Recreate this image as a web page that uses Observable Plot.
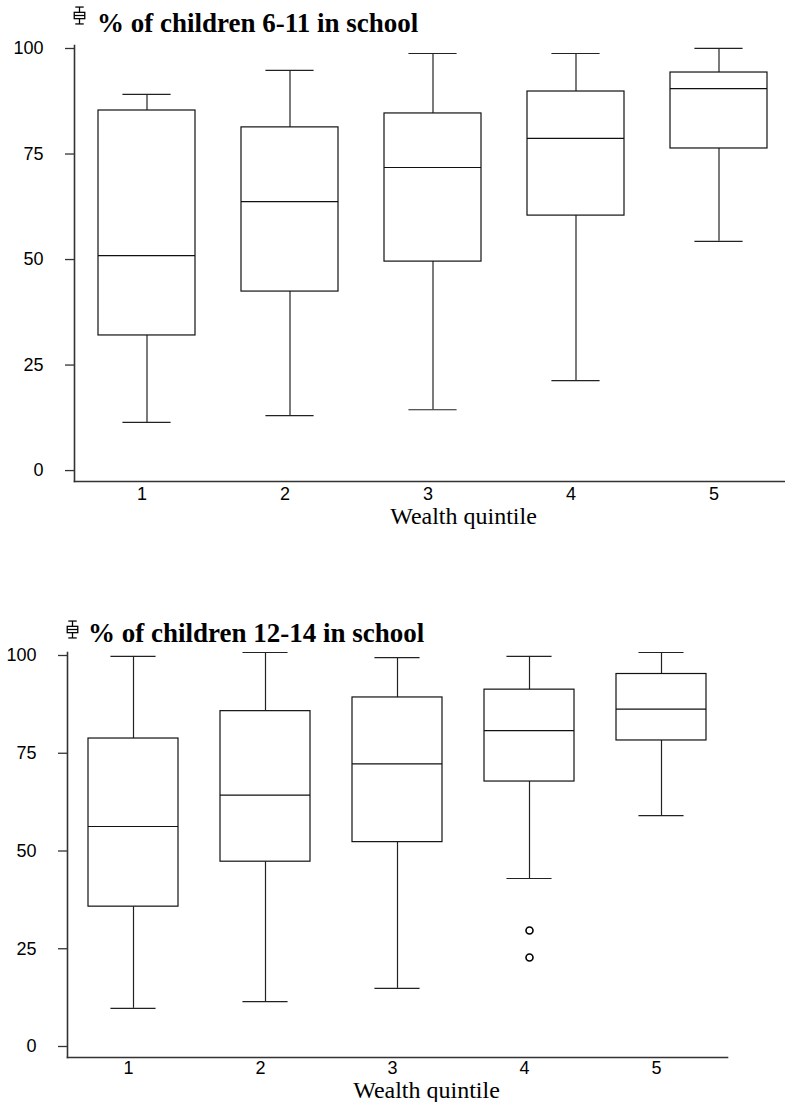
<!DOCTYPE html>
<html><head><meta charset="utf-8">
<script src="https://cdn.jsdelivr.net/npm/d3@7"></script>
<script src="https://cdn.jsdelivr.net/npm/@observablehq/plot@0.6"></script>
<style>
body{margin:0;background:#fff;}
#wrap{position:relative;width:785px;height:1102px;overflow:hidden;background:#fff;}
.title{position:absolute;z-index:2;font-family:"Liberation Serif","Times New Roman",serif;font-weight:bold;font-size:27px;white-space:nowrap;line-height:1;color:#000;}
.icon{position:absolute;z-index:2;}
.chart{position:absolute;left:0;z-index:1;}
</style></head><body>
<div id="wrap"></div>
<script>
// ---- data ----
const quintiles = ["1", "2", "3", "4", "5"];
const yTicks = [0, 25, 50, 75, 100];
const xTitle = "Wealth quintile";

// Chart 1: % of children 6-11 in school
const title1 = "% of children 6-11 in school";
const lo1  = [10.7, 12.3, 13.7, 20.6, 53.6];
const q1_1 = [31.3, 41.7, 48.8, 59.7, 75.6];
const med1 = [50.2, 63.0, 71.1, 78.0, 89.8];
const q3_1 = [84.6, 80.6, 83.9, 89.1, 93.6];
const hi1  = [88.4, 94.1, 98.1, 98.1, 99.3];

// Chart 2: % of children 12-14 in school
const title2 = "% of children 12-14 in school";
const lo2  = [9.0, 10.7, 14.1, 42.2, 58.3];
const q1_2 = [35.0, 46.5, 51.5, 67.0, 77.5];
const med2 = [55.5, 63.5, 71.5, 80.0, 85.5];
const q3_2 = [78.0, 85.0, 88.5, 90.5, 94.5];
const hi2  = [99.0, 100.0, 98.7, 99.0, 100.0];
const outQ2 = ["4", "4"];
const outV2 = [28.9, 22.0];

// ---- build ----
const wrap = document.getElementById("wrap");
const serif = '"Liberation Serif","Times New Roman",serif';
const sans = '"Liberation Sans",Arial,sans-serif';

function rows(lo, q1, med, q3, hi) {
  return quintiles.map((q, i) => ({q, lo: lo[i], q1: q1[i], med: med[i], q3: q3[i], hi: hi[i]}));
}

function iconSVG(w, h) {
  const ns = "http://www.w3.org/2000/svg";
  const s = document.createElementNS(ns, "svg");
  s.setAttribute("width", w); s.setAttribute("height", h);
  s.setAttribute("viewBox", "0 0 12 18");
  s.innerHTML = '<g stroke="#000" stroke-width="1.2" fill="none">' +
    '<line x1="2" y1="1" x2="10" y2="1"/><line x1="6" y1="1" x2="6" y2="6"/>' +
    '<rect x="1" y="6" width="10" height="6"/><line x1="1" y1="9" x2="11" y2="9"/>' +
    '<line x1="6" y1="12" x2="6" y2="17"/><line x1="2" y1="17" x2="10" y2="17"/></g>';
  return s;
}

function addTitle(text, iconX, iconY, textX, textY) {
  const ic = iconSVG(13, 19);
  ic.classList.add("icon");
  ic.style.left = iconX + "px"; ic.style.top = iconY + "px";
  wrap.appendChild(ic);
  const t = document.createElement("div");
  t.className = "title";
  t.textContent = text;
  t.style.left = textX + "px"; t.style.top = textY + "px";
  wrap.appendChild(t);
}

function boxChart({data, outliers, top, height, marginTop, marginBottom, marginLeft, marginRight, yMin, xTitleDx, xTitleDy, xTickPad, xTickDx}) {
  const plotW = 785 - marginLeft - marginRight;
  const bw = plotW / 5 * 0.68;
  const chart = Plot.plot({
    width: 785, height, marginTop, marginBottom, marginLeft, marginRight,
    style: {fontFamily: sans, fontSize: "18px", background: "transparent", color: "#000"},
    x: {domain: quintiles, paddingInner: 0.32, paddingOuter: 0.16, axis: null},
    y: {domain: [yMin, 100], axis: null},
    marks: [
      Plot.axisY({ticks: yTicks, tickSize: 9, tickPadding: 22, dy: 3, fontSize: 18, stroke: "#333", strokeWidth: 1.3, label: null}),
      Plot.axisX({tickSize: 0, tickPadding: xTickPad, dx: xTickDx, fontSize: 18, label: null}),
      Plot.frame({anchor: "left", stroke: "#333", strokeWidth: 1.6}),
      Plot.frame({anchor: "bottom", stroke: "#333", strokeWidth: 1.6}),
      Plot.ruleX(data, {x: "q", y1: "q3", y2: "hi", stroke: "#222", strokeWidth: 1.2}),
      Plot.ruleX(data, {x: "q", y1: "lo", y2: "q1", stroke: "#222", strokeWidth: 1.2}),
      Plot.barY(data, {x: "q", y1: "q1", y2: "q3", fill: "white", stroke: "#111", strokeWidth: 1.2}),
      Plot.tickY(data, {x: "q", y: "med", stroke: "#111", strokeWidth: 1.2}),
      Plot.tickY(data, {x: "q", y: "hi", insetLeft: bw / 4, insetRight: bw / 4, stroke: "#222", strokeWidth: 1.2}),
      Plot.tickY(data, {x: "q", y: "lo", insetLeft: bw / 4, insetRight: bw / 4, stroke: "#222", strokeWidth: 1.2}),
      Plot.dot(outliers, {x: "q", y: "v", r: 3.5, stroke: "#000", strokeWidth: 1.6, fill: "white"}),
      Plot.text([xTitle], {frameAnchor: "bottom", dy: xTitleDy, dx: xTitleDx, fontFamily: serif, fontSize: 24, lineAnchor: "middle"})
    ]
  });
  chart.classList.add("chart");
  chart.style.top = top + "px";
  wrap.appendChild(chart);
}

addTitle(title1, 73, 6, 97, 10);
boxChart({
  data: rows(lo1, q1_1, med1, q3_1, hi1), outliers: [],
  top: 30, height: 540, marginTop: 15, marginBottom: 89, marginLeft: 74, marginRight: -7,
  yMin: -3.3, xTitleDx: 30, xTitleDy: 35, xTickPad: 6, xTickDx: -5
});

addTitle(title2, 66, 620, 88, 620);
boxChart({
  data: rows(lo2, q1_2, med2, q3_2, hi2),
  outliers: outQ2.map((q, i) => ({q, v: outV2[i]})),
  top: 640, height: 462, marginTop: 12, marginBottom: 45, marginLeft: 67, marginRight: 58,
  yMin: -3.58, xTitleDx: 29, xTitleDy: 33, xTickPad: 4, xTickDx: -5
});
</script>
</body></html>
